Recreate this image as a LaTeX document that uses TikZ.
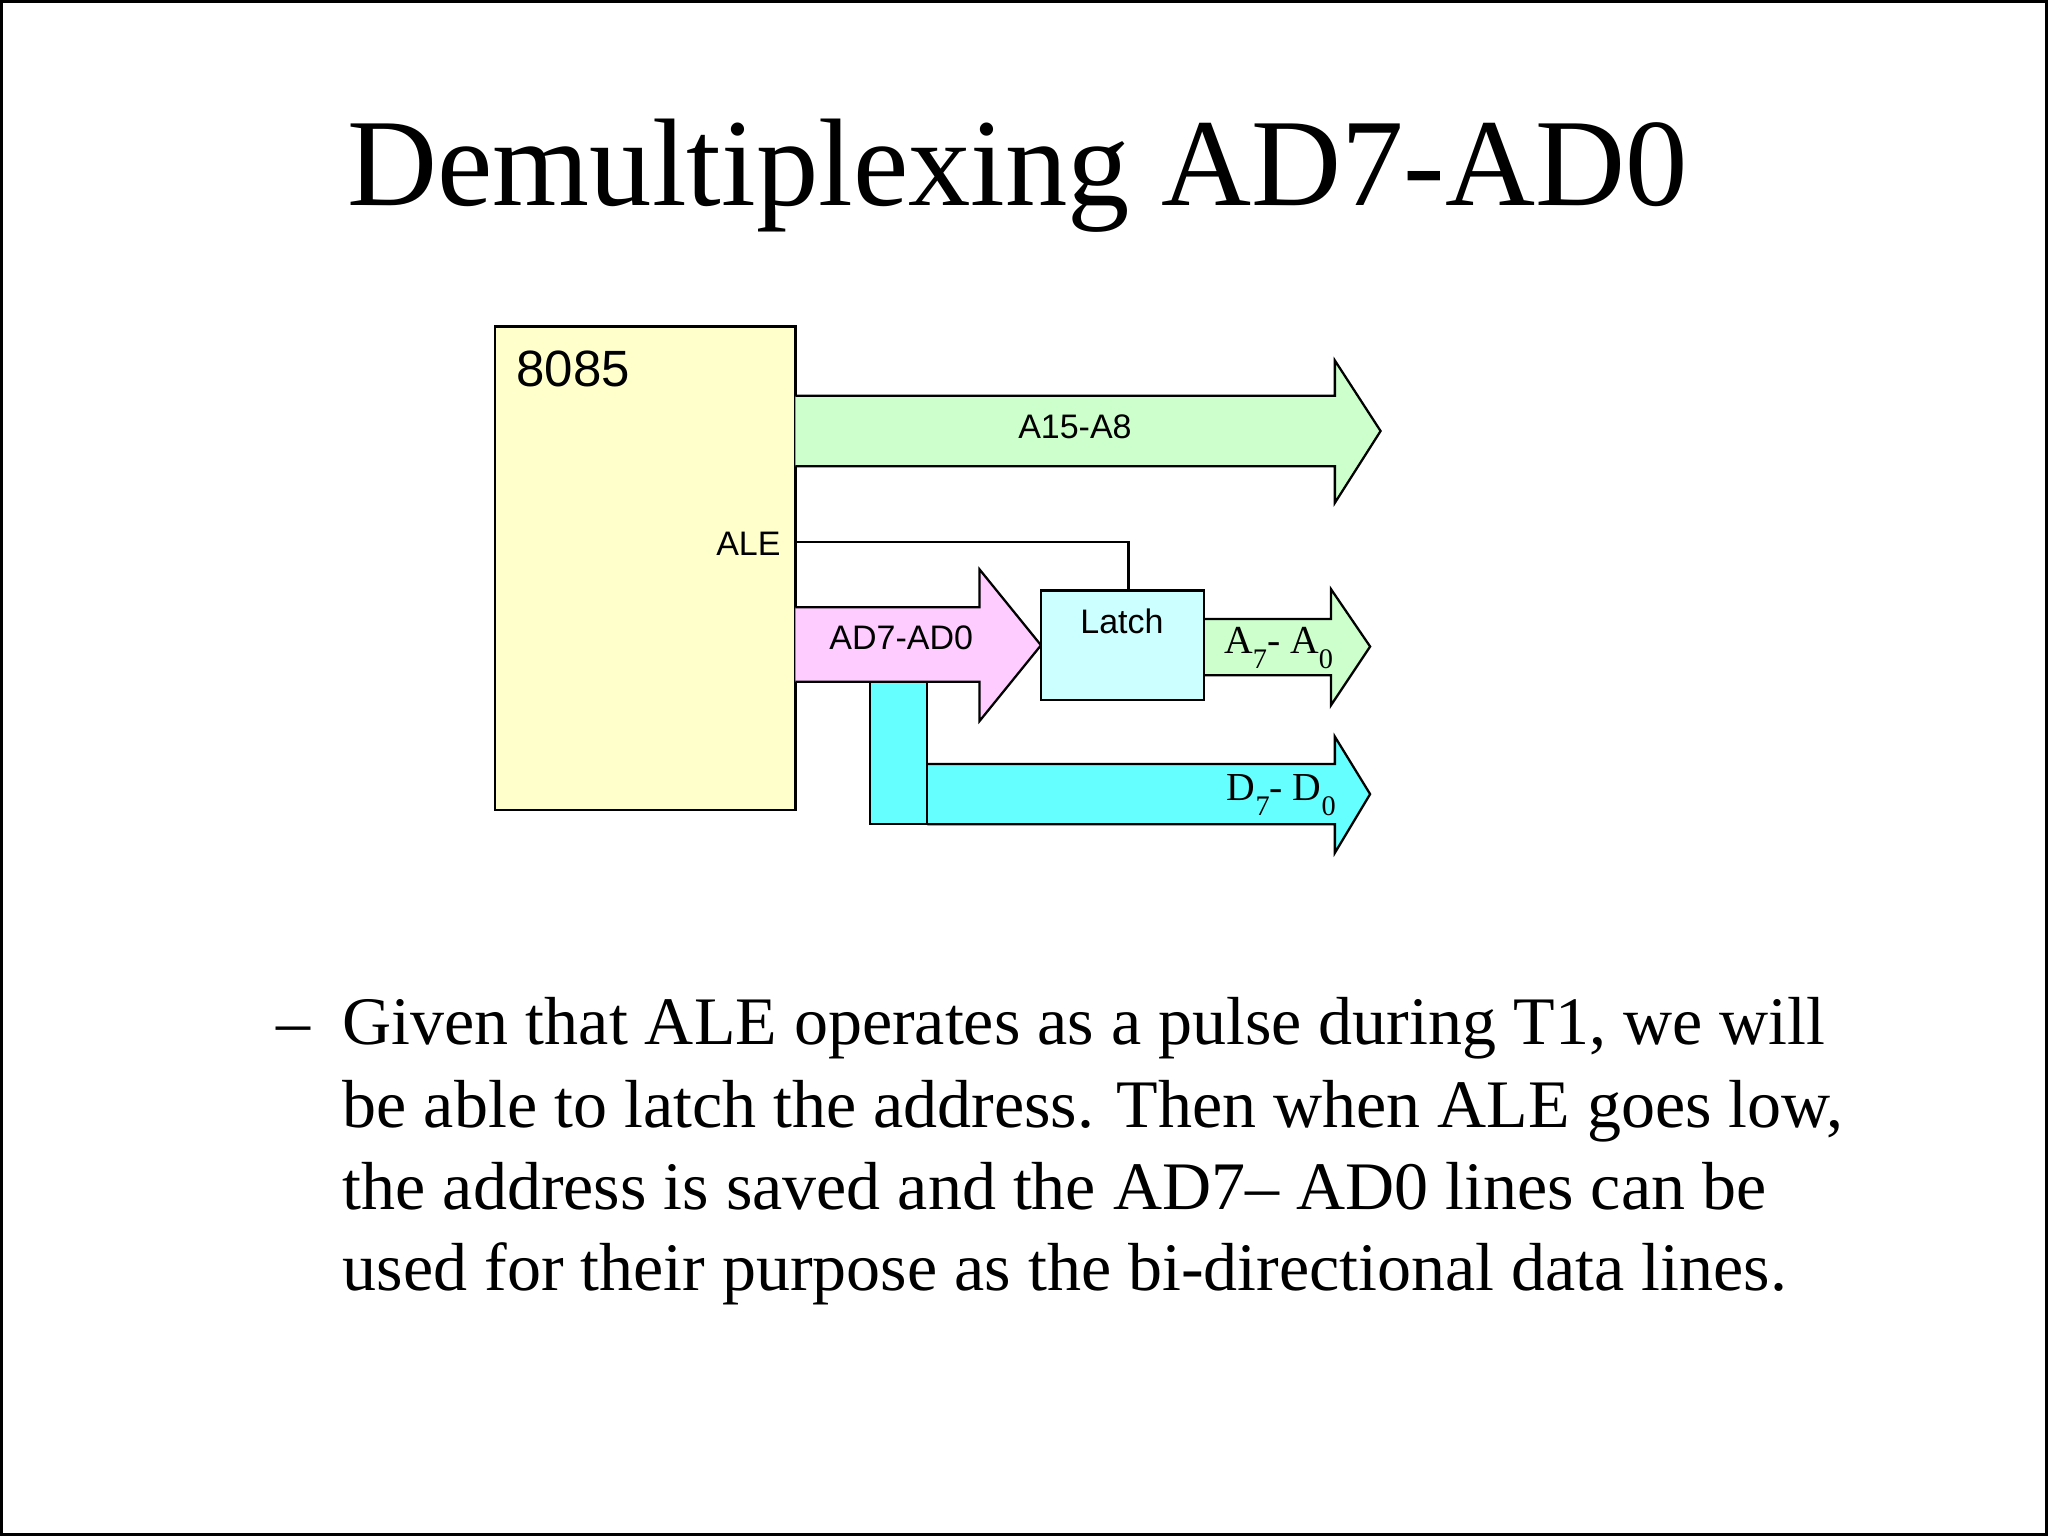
\documentclass[tikz,border=0pt]{standalone}
\usepackage{fontspec}
\setmainfont{Liberation Serif}
\newfontfamily\arialf{Liberation Sans}
\usetikzlibrary{fit}
\definecolor{yellowfill}{HTML}{FFFFCC}
\definecolor{greenfill}{HTML}{CCFFCC}
\definecolor{pinkfill}{HTML}{FFCCFF}
\definecolor{latchfill}{HTML}{CCFFFF}
\definecolor{cyanfill}{HTML}{66FFFF}
\tikzset{
  box/.style={draw, inner sep=0pt, line width=0.8pt},
  bus/.style={draw, line width=0.8pt, line join=miter},
  lab/.style={font=\arialf\fontsize{12}{14}\selectfont, inner sep=0pt},
  tlab/.style={font=\fontsize{14}{16}\selectfont, inner sep=0pt},
  body/.style={font=\fontsize{24}{29}\selectfont, anchor=base west, inner sep=0pt}
}
\newcommand{\sbs}[1]{\raisebox{-0.38em}{\fontsize{10}{10}\selectfont #1}}
\begin{document}
\begin{tikzpicture}[x=0.016199cm,y=-0.016199cm]
\path[use as bounding box] (0,0) rectangle (1568,1176);
\draw[line width=1pt] (1,1) rectangle (1567,1175);
\node[font=\fontsize{44}{52}\selectfont, anchor=base, inner sep=0pt] (title) at (779,157) {Demultiplexing AD7-AD0};

% 8085 chip
\node[box, fill=yellowfill, fit={(379,250)(609,620)}] (chip) {};
\node[font=\arialf\fontsize{18}{20}\selectfont, anchor=base west, inner sep=0pt] (chipname) at (395,296) {8085};

% A15-A8 bus
\draw[bus, fill=greenfill] (609,303) -- (1022,303) -- (1022,276) -- (1057,330) -- (1022,385) -- (1022,357) -- (609,357);
\node[lab] (a15) at (823,327) {A15-A8};

% A7-A0 bus
\draw[bus, fill=greenfill] (922,474) -- (1019,474) -- (1019,451) -- (1049,495) -- (1019,540) -- (1019,517) -- (922,517);
\node[tlab] (a7) at (979,496) {A\sbs{7}- A\sbs{0}};

% D7-D0 bus
\draw[bus, fill=cyanfill] (710,585) -- (1022,585) -- (1022,564) -- (1049,608) -- (1022,653) -- (1022,631) -- (710,631);
\node[tlab] (d7) at (981,609) {D\sbs{7}- D\sbs{0}};

% AD7-AD0 bus
\draw[bus, fill=pinkfill] (609,465) -- (750,465) -- (750,436) -- (797,494) -- (750,552) -- (750,522) -- (609,522);
\node[lab] (ad) at (690,488) {AD7-AD0};

% vertical data bar
\node[box, fill=cyanfill, fit={(666,522)(710,631)}] (dbar) {};

% Latch
\node[box, fill=latchfill, fit={(797,452)(922,536)}] (latch) {};
\node[lab] (latchname) at (859,476) {Latch};

% ALE
\node[lab, anchor=east] (ale) at (598,416) {ALE};
\coordinate (alein) at (864,452);
\draw[line width=0.8pt] (chip.east |- 0,415) -| (alein);

% body text
\node[font=\fontsize{24}{29}\selectfont, anchor=base west, inner sep=0pt] (dash) at (211,800) {–};
\node[body] (l1) at (262,800) {Given that ALE operates as a pulse during T1, we will};
\node[body] (l2) at (262,863) {be able to latch the address. Then when ALE goes low,};
\node[body] (l3) at (262,926) {the address is saved and the AD7– AD0 lines can be};
\node[body] (l4) at (262,988) {used for their purpose as the bi-directional data lines.};
\end{tikzpicture}
\end{document}
